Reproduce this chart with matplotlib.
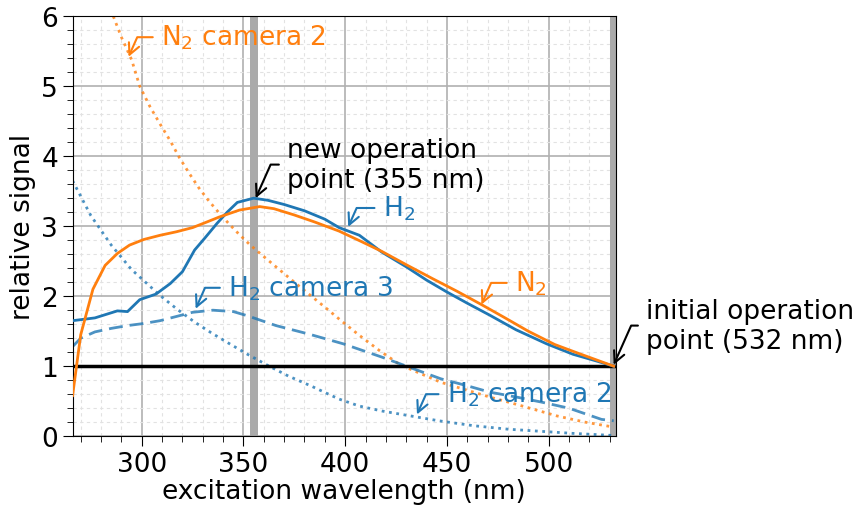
import numpy as np
import matplotlib
matplotlib.use('Agg')
import matplotlib.pyplot as plt
from matplotlib.ticker import MultipleLocator

# H2 (solid blue)
h2_wl = [266, 277, 288, 293, 299, 307, 314, 320, 326, 331, 337, 342, 347, 355,
         362, 370, 380, 390, 397, 407, 418, 430, 440, 450, 460, 471, 484, 499, 512, 524, 532]
h2_sig = [1.65, 1.69, 1.79, 1.78, 1.95, 2.03, 2.18, 2.35, 2.66, 2.83, 3.04, 3.2, 3.34, 3.40,
          3.37, 3.31, 3.22, 3.10, 2.98, 2.87, 2.63, 2.42, 2.23, 2.06, 1.90, 1.73, 1.52, 1.32, 1.17, 1.07, 1.0]

# N2 (solid orange)
n2_wl = [266, 270, 276, 282, 288, 294, 301, 309, 317, 325, 332, 338, 348, 358,
         365, 375, 385, 397, 408, 418, 430, 443, 455, 467, 478, 490, 503, 515, 532]
n2_sig = [0.58, 1.45, 2.1, 2.44, 2.61, 2.73, 2.81, 2.87, 2.92, 2.98, 3.06, 3.13, 3.23, 3.28,
          3.25, 3.16, 3.06, 2.93, 2.78, 2.64, 2.45, 2.25, 2.07, 1.88, 1.70, 1.50, 1.31, 1.18, 1.0]

# H2 camera 3 (dashed blue)
h2c3_wl = [266, 270, 277, 285, 293, 301, 309, 317, 325, 335, 345, 352, 366, 382, 399,
           418, 432, 447, 460, 471, 484, 496, 510, 526, 532]
h2c3_sig = [1.28, 1.40, 1.49, 1.54, 1.58, 1.61, 1.65, 1.71, 1.77, 1.80, 1.78, 1.72, 1.58, 1.46, 1.32,
            1.13, 0.98, 0.82, 0.72, 0.63, 0.56, 0.49, 0.40, 0.24, 0.22]

# H2 camera 2 (dotted blue)
h2c2_wl = [266, 275, 285, 295, 309, 318, 326, 334, 342, 352, 362, 372, 383, 397, 407,
           418, 430, 446, 463, 480, 496, 512, 532]
h2c2_sig = [3.65, 3.15, 2.73, 2.38, 2.01, 1.80, 1.63, 1.48, 1.34, 1.17, 1.01, 0.86, 0.72, 0.53, 0.43,
            0.36, 0.30, 0.22, 0.15, 0.10, 0.07, 0.04, 0.01]

# N2 camera 2 (dotted orange)
n2c2_wl = [286, 290, 295, 299, 304, 309, 314, 318.5, 323, 328, 333, 338, 343, 348, 353, 359,
           375, 391, 398, 407, 417, 427, 447, 471, 486, 504, 518, 532]
n2c2_sig = [6.0, 5.7, 5.38, 5.0, 4.71, 4.46, 4.22, 3.98, 3.77, 3.55, 3.36, 3.19, 3.03, 2.88, 2.74, 2.59,
            2.20, 1.82, 1.65, 1.44, 1.22, 1.02, 0.77, 0.56, 0.44, 0.29, 0.20, 0.13]

blue = '#1f77b4'
orange = '#ff7f0e'

plt.rcParams['font.size'] = 19

fig = plt.figure(figsize=(8.54, 5.06), dpi=100)
ax = fig.add_axes([0.085, 0.136, 0.636, 0.830])

ax.axvspan(353, 357, color='#aaaaaa', zorder=1, lw=0)
ax.axvspan(530, 534, color='#aaaaaa', zorder=1, lw=0)
ax.axhline(1, color='black', lw=2.5, zorder=3)

ax.plot(h2c2_wl, h2c2_sig, ':', color=blue, lw=2, alpha=0.8, zorder=2)
ax.plot(n2c2_wl, n2c2_sig, ':', color=orange, lw=2, alpha=0.8, zorder=2)
ax.plot(h2c3_wl, h2c3_sig, '--', color=blue, lw=2, alpha=0.8, dashes=(5, 2.5), zorder=2)
ax.plot(h2_wl, h2_sig, '-', color=blue, lw=2, zorder=4)
ax.plot(n2_wl, n2_sig, '-', color=orange, lw=2, zorder=4)

ax.set_xlim(266, 533)
ax.set_ylim(0, 6)
ax.xaxis.set_major_locator(MultipleLocator(50))
ax.xaxis.set_minor_locator(MultipleLocator(10))
ax.yaxis.set_major_locator(MultipleLocator(1))
ax.yaxis.set_minor_locator(MultipleLocator(0.2))
ax.grid(which='major', color='#b0b0b0', lw=1.2)
ax.grid(which='minor', color='#e2e2e2', lw=0.8, ls=(0, (3, 3)))
ax.set_axisbelow(True)
ax.tick_params(which='major', length=7)
ax.tick_params(which='minor', length=4)

ax.set_xlabel('excitation wavelength (nm)', labelpad=1)
ax.set_ylabel('relative signal')


def note(text, xy, xytext, color):
    ax.annotate(text, xy=xy, xytext=xytext, color=color, va='center', ha='left',
                annotation_clip=False,
                arrowprops=dict(arrowstyle='->', color=color, lw=1.5, relpos=(0, 0.5),
                                connectionstyle='angle,angleA=0,angleB=66', shrinkA=4, shrinkB=0,
                                mutation_scale=20))


note('N$_2$ camera 2', (293.5, 5.42), (309.5, 5.70), orange)
note('new operation\npoint (355 nm)', (356, 3.40), (371.5, 3.88), 'black')
note('H$_2$', (401.5, 2.99), (418.5, 3.26), blue)
note('N$_2$', (467, 1.88), (483.5, 2.19), orange)
note('H$_2$ camera 3', (326.5, 1.82), (342.5, 2.12), blue)
note('H$_2$ camera 2', (435.3, 0.31), (450, 0.60), blue)
note('initial operation\npoint (532 nm)', (532, 1.02), (548, 1.58), 'black')

fig.savefig('out.png', dpi=100)
